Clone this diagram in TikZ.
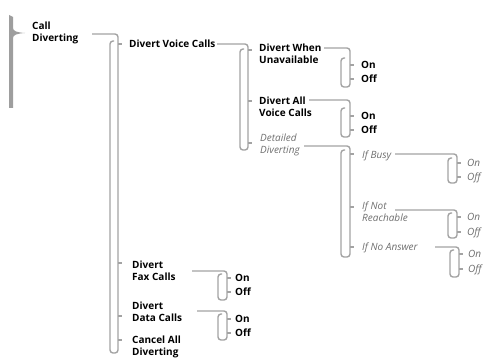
\documentclass[tikz,border=0pt]{standalone}
\usepackage{fontspec}
\setmainfont{Open Sans}
\definecolor{lg}{HTML}{A3A3A3}
\definecolor{ig}{HTML}{6E6E6E}
\definecolor{bg}{HTML}{9E9E9E}
\tikzset{
  ln/.style={draw=lg, line width=1.4pt},
  bt/.style={anchor=north west, inner sep=0pt, align=left, font=\bfseries\fontsize{10}{11.7}\selectfont},
  it/.style={anchor=north west, inner sep=0pt, align=left, text=ig, font=\itshape\fontsize{10}{11.7}\selectfont},
}
% #1 feed coordinate, #2 x right, #3 x left, #4 y top of left side, #5 y bottom
\newcommand\brkt[5]{\draw[ln,rounded corners=3pt] (#1) -- (#1 -| #2,0) -- (#2,#5) -- (#3,#5) -- (#3,#4) -- (#3+4,#4);}
\newcommand\tck[2]{\draw[ln] (#1,#2) -- ++(4,0);}
\begin{document}
\begin{tikzpicture}[x=1pt,y=-1pt]
\useasboundingbox (0,0) rectangle (483,358);
% big brace
\fill[bg] (9,15) -- (13,17) -- (13,28) .. controls (13,31) and (17,32.5) .. (25,33) .. controls (17,33.5) and (13,35) .. (13,38) -- (13,108) -- (9,108) -- cycle;

% texts
\node[bt] (call) at (32,22) {Call\\Diverting};
\node[bt] (voice) at (129,40) {Divert Voice Calls};
\node[bt] (when) at (259,44) {Divert When\\Unavailable};
\node[bt] (all) at (259,97) {Divert All\\Voice Calls};
\node[it] (det) at (260,134) {Detailed\\Diverting};
\node[bt] (on1) at (361,61) {On};
\node[bt] (off1) at (361,75) {Off};
\node[bt] (on2) at (361,112) {On};
\node[bt] (off2) at (361,126) {Off};
\node[it] (busy) at (362,151) {If Busy};
\node[it] (notr) at (362,202) {If Not\\Reachable};
\node[it] (noans) at (362,243) {If No Answer};
\node[it] (on3) at (467,159) {On};
\node[it] (off3) at (467,173) {Off};
\node[it] (on4) at (467,213) {On};
\node[it] (off4) at (467,228) {Off};
\node[it] (on5) at (468,250) {On};
\node[it] (off5) at (468,265) {Off};
\node[bt] (fax) at (132,261) {Divert\\Fax Calls};
\node[bt] (data) at (132,302) {Divert\\Data Calls};
\node[bt] (cancel) at (132,336) {Cancel All\\Diverting};
\node[bt] (on6) at (235,274) {On};
\node[bt] (off6) at (235,288) {Off};
\node[bt] (on7) at (235,315) {On};
\node[bt] (off7) at (235,329) {Off};

% feed start points
\coordinate (fcall) at (92,34);
\coordinate (fvoice) at (217,44);
\coordinate (fwhen) at (324,48);
\coordinate (fall) at (309,100);
\coordinate (fdet) at (304,146);
\coordinate (fbusy) at (395,154);
\coordinate (fnotr) at (395,210);
\coordinate (fnoans) at (435,247);
\coordinate (ffax) at (192,271);
\coordinate (fdata) at (197,311);

% brackets
\brkt{fcall}{118}{110}{41}{353}
\tck{118}{44}\tck{118}{263}\tck{118}{316}\tck{118}{340}
\brkt{fvoice}{248}{240}{49}{150}
\tck{248}{50}\tck{248}{101}\tck{248}{143}
\brkt{fwhen}{350}{341}{58}{87}
\tck{350}{65}\tck{350}{79}
\brkt{fall}{350}{341}{108}{137}
\tck{350}{116}\tck{350}{130}
\brkt{fdet}{350}{341}{150}{257}
\tck{350}{154}\tck{350}{207}\tck{350}{247}
\brkt{fbusy}{457}{448}{158}{183}
\tck{457}{163}\tck{457}{177}
\brkt{fnotr}{457}{448}{213}{238}
\tck{457}{217}\tck{457}{232}
\brkt{fnoans}{459}{450}{250}{277}
\tck{459}{254}\tck{459}{269}
\brkt{ffax}{227}{218}{274}{300}
\tck{227}{278}\tck{227}{292}
\brkt{fdata}{227}{218}{314}{340}
\tck{227}{319}\tck{227}{333}
\end{tikzpicture}
\end{document}
